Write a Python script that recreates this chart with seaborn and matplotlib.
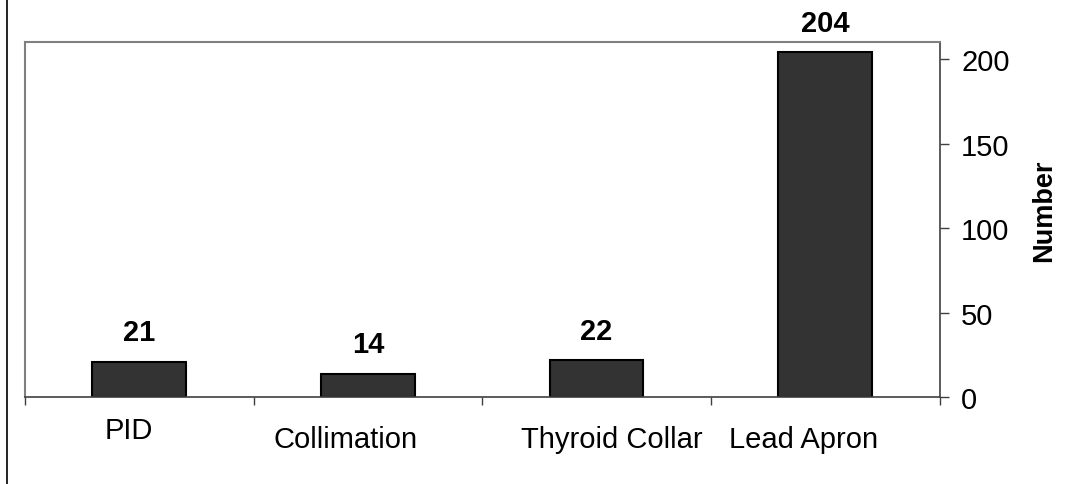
import seaborn as sns
import matplotlib.pyplot as plt
import pandas as pd
from matplotlib.lines import Line2D
from matplotlib.transforms import ScaledTranslation

categories = ["PID", "Collimation", "Thyroid Collar", "Lead Apron"]
counts = [21, 14, 22, 204]
y_ticks = [0, 50, 100, 150, 200]

# the source staggers its category labels a little (pixel nudges, x and y)
label_nudge = [(-10, 9), (-22, 0), (15, 0), (-22, 0)]


def main():
    sns.set_theme(style="white")
    plt.rcParams["font.family"] = ["Liberation Sans", "DejaVu Sans"]
    plt.rcParams["text.color"] = "black"
    plt.rcParams["xtick.color"] = "black"
    plt.rcParams["ytick.color"] = "black"
    plt.rcParams["axes.labelcolor"] = "black"

    df = pd.DataFrame({"item": categories, "count": counts})

    fig = plt.figure(figsize=(10.85, 4.85), dpi=100)
    ax = fig.add_axes([0.023, 0.179, 0.843, 0.732])

    sns.barplot(ax=ax, data=df, x="item", y="count", color="#333333",
                saturation=1, width=0.41, edgecolor="black", linewidth=1.5)

    ax.set_ylim(0, 210)
    ax.set_xlim(-0.5, 3.5)
    ax.yaxis.tick_right()
    ax.yaxis.set_label_position("right")
    ax.set_yticks(y_ticks)
    ax.tick_params(axis="y", direction="out", length=6.5, width=1, color="#404040",
                   labelsize=21, pad=9, left=False, right=True)

    # category boundaries get the tick marks
    ax.set_xticks([-0.5, 0.5, 1.5, 2.5, 3.5], minor=True)
    ax.tick_params(axis="x", which="minor", direction="out", length=6, width=1,
                   color="#404040", bottom=True)
    ax.tick_params(axis="x", which="major", length=0, labelsize=21, pad=20)

    ax.set_xlabel("")
    ax.set_ylabel("Number", fontsize=19.5, fontweight="bold")
    ax.yaxis.set_label_coords(1.1005, 0.527)

    for side in ["top", "left"]:
        ax.spines[side].set_color("#808080")
        ax.spines[side].set_linewidth(1.5)
    for side in ["bottom", "right"]:
        ax.spines[side].set_color("#404040")
        ax.spines[side].set_linewidth(1.2)

    ax.bar_label(ax.containers[0], padding=11, fontsize=21, fontweight="bold",
                 color="black")

    for lab, (dx, dy) in zip(ax.get_xticklabels(), label_nudge):
        lab.set_transform(lab.get_transform() +
                          ScaledTranslation(dx / 100, dy / 100, fig.dpi_scale_trans))

    fig.add_artist(Line2D([0.006, 0.006], [0, 1], transform=fig.transFigure,
                          color="black", linewidth=1.2))

    fig.savefig("out.png", dpi=100, facecolor="white")


if __name__ == '__main__':
    main()
